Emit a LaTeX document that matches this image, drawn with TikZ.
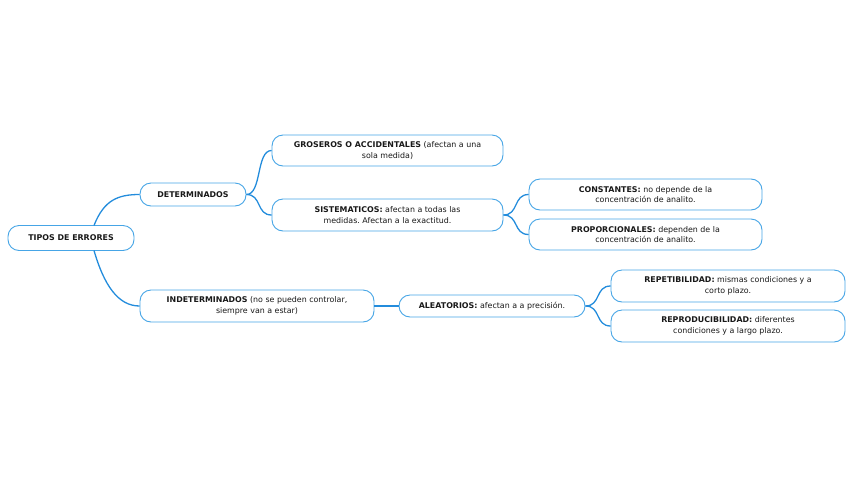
\documentclass[tikz,border=0pt]{standalone}
\usepackage{fontspec}
\setmainfont{DejaVu Sans}
\frenchspacing
\begin{document}
\begin{tikzpicture}[x=1pt,y=-1pt,
  box/.style={draw=boxblue, line width=0.9pt, rounded corners=11pt, fill=white, align=center,
    font=\fontsize{7.9}{10.4}\selectfont, inner sep=0pt, text=black!90},
  link/.style={draw=linkblue, line width=1.3pt}]
\definecolor{boxblue}{RGB}{70,165,230}
\definecolor{linkblue}{RGB}{35,140,220}
\useasboundingbox (0,0) rectangle (848,477);
\node[box, minimum width=126, minimum height=25] (root) at (71,238) {\textbf{TIPOS DE ERRORES}};
\node[box, minimum width=106, minimum height=23] (det) at (193,194.5) {\textbf{DETERMINADOS}};
\node[box, minimum width=231, minimum height=31] (gro) at (387.5,150.5) {\textbf{GROSEROS O ACCIDENTALES} (afectan a una\\sola medida)};
\node[box, minimum width=231, minimum height=32] (sis) at (387.5,215) {\textbf{SISTEMATICOS:} afectan a todas las\\medidas. Afectan a la exactitud.};
\node[box, minimum width=233, minimum height=31] (con) at (645.5,194.5) {\textbf{CONSTANTES:} no depende de la\\concentración de analito.};
\node[box, minimum width=233, minimum height=31] (pro) at (645.5,234.5) {\textbf{PROPORCIONALES:} dependen de la\\concentración de analito.};
\node[box, minimum width=234, minimum height=32] (ind) at (257,306) {\textbf{INDETERMINADOS} (no se pueden controlar,\\siempre van a estar)};
\node[box, minimum width=186, minimum height=22] (ale) at (492,306) {\textbf{ALEATORIOS:} afectan a a precisión.};
\node[box, minimum width=234, minimum height=32] (rep) at (728,286) {\textbf{REPETIBILIDAD:} mismas condiciones y a\\corto plazo.};
\node[box, minimum width=234, minimum height=32] (rpr) at (728,326) {\textbf{REPRODUCIBILIDAD:} diferentes\\condiciones y a largo plazo.};
\coordinate (rt) at (94,225.5);
\coordinate (rb) at (94,250.5);
\draw[link] (rt) .. controls (104,200) and (118,194.5) .. (det.west);
\draw[link] (rb) .. controls (104,285) and (118,306) .. (ind.west);
\draw[link] (det.east) .. controls (262,194.5) and (256,150.5) .. (gro.west);
\draw[link] (det.east) .. controls (262,194.5) and (256,215) .. (sis.west);
\draw[link] (sis.east) .. controls (519,215) and (513,194.5) .. (con.west);
\draw[link] (sis.east) .. controls (519,215) and (513,234.5) .. (pro.west);
\draw[link] (ind.east) -- (ale.west);
\draw[link] (ale.east) .. controls (601,306) and (595,286) .. (rep.west);
\draw[link] (ale.east) .. controls (601,306) and (595,326) .. (rpr.west);
\end{tikzpicture}
\end{document}
